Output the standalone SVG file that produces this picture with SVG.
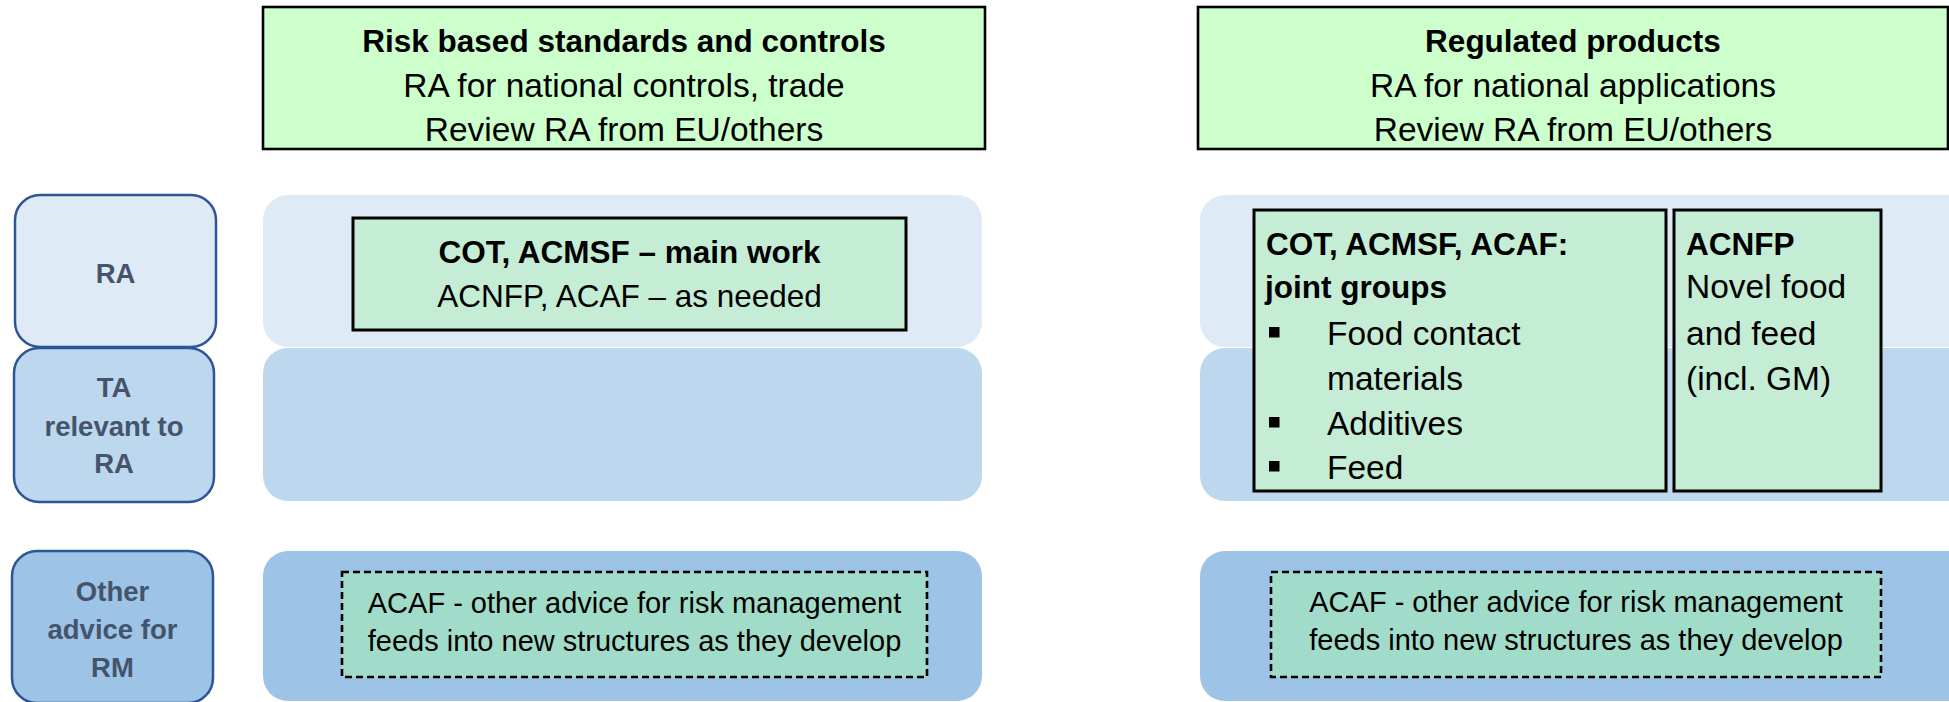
<svg xmlns="http://www.w3.org/2000/svg" width="1949" height="702" viewBox="0 0 1949 702">
<style>
text{font-family:"Liberation Sans",Arial,sans-serif;fill:#000}
.hdr{fill:#CCFFCC;stroke:#000;stroke-width:2.6}
.grn{fill:#C5EDD5;stroke:#000;stroke-width:3}
.dash{fill:#A0DCC9;stroke:#000;stroke-width:2.6;stroke-dasharray:7 4}
.b1{fill:#DEEBF7}
.b2{fill:#BDD7EE}
.b3{fill:#9DC3E6}
.lbl{stroke:#2F5597;stroke-width:2.5}
.lt{font-weight:bold;font-size:27.5px;fill:#44546A;text-anchor:middle}
.tb{font-weight:bold;font-size:31.5px}
.tr{font-size:33.5px}
.td{font-size:29px;text-anchor:middle}
.c{text-anchor:middle}
.bul{fill:#000}
</style>
<g id="bands">
<rect class="b1" x="263" y="195" width="719" height="152" rx="25"/>
<rect class="b2" x="263" y="348" width="719" height="153" rx="25"/>
<rect class="b3" x="263" y="551" width="719" height="150" rx="25"/>
<rect class="b1" x="1200" y="195" width="790" height="152" rx="25"/>
<rect class="b2" x="1200" y="348" width="790" height="153" rx="25"/>
<rect class="b3" x="1200" y="551" width="790" height="150" rx="25"/>
</g>
<g id="label-ra">
<rect class="b1 lbl" x="15" y="195" width="201" height="152" rx="25"/>
<text class="lt" x="115.5" y="283">RA</text>
</g>
<g id="label-ta">
<rect class="b2 lbl" x="14" y="348" width="200" height="154" rx="25"/>
<text class="lt" x="114" y="397">TA</text>
<text class="lt" x="114" y="436">relevant to</text>
<text class="lt" x="114" y="473">RA</text>
</g>
<g id="label-rm">
<rect class="b3 lbl" x="12" y="551" width="201" height="152" rx="25"/>
<text class="lt" x="112.5" y="600.5">Other</text>
<text class="lt" x="112.5" y="638.5">advice for</text>
<text class="lt" x="112.5" y="677">RM</text>
</g>
<g id="header-left">
<rect class="hdr" x="263" y="7" width="722" height="142"/>
<text class="tb c" x="624" y="52">Risk based standards and controls</text>
<text class="tr c" x="624" y="97">RA for national controls, trade</text>
<text class="tr c" x="624" y="140.5">Review RA from EU/others</text>
</g>
<g id="header-right">
<rect class="hdr" x="1198" y="7" width="750" height="142"/>
<text class="tb c" x="1573" y="52">Regulated products</text>
<text class="tr c" x="1573" y="97">RA for national applications</text>
<text class="tr c" x="1573" y="140.5">Review RA from EU/others</text>
</g>
<g id="cot-main">
<rect class="grn" x="353" y="218" width="553" height="112"/>
<text class="tb c" x="629.5" y="263">COT, ACMSF – main work</text>
<text class="c" style="font-size:31.5px" x="629.5" y="307">ACNFP, ACAF – as needed</text>
</g>
<g id="joint-groups">
<rect class="grn" x="1254" y="210" width="412" height="281"/>
<text class="tb" x="1266" y="255">COT, ACMSF, ACAF:</text>
<text class="tb" x="1265" y="298">joint groups</text>
<rect class="bul" x="1269" y="327" width="10.5" height="10.5"/>
<text class="tr" x="1327" y="345">Food contact</text>
<text class="tr" x="1327" y="390">materials</text>
<rect class="bul" x="1269" y="417" width="10.5" height="10.5"/>
<text class="tr" x="1327" y="435">Additives</text>
<rect class="bul" x="1269" y="461" width="10.5" height="10.5"/>
<text class="tr" x="1327" y="479">Feed</text>
</g>
<g id="acnfp">
<rect class="grn" x="1674" y="210" width="207" height="281"/>
<text class="tb" x="1686" y="255">ACNFP</text>
<text class="tr" x="1686" y="298">Novel food</text>
<text class="tr" x="1686" y="345">and feed</text>
<text class="tr" x="1686" y="390">(incl. GM)</text>
</g>
<g id="acaf-left">
<rect class="dash" x="342" y="572" width="585" height="105"/>
<text class="td" x="634.5" y="613">ACAF - other advice for risk management</text>
<text class="td" x="634.5" y="651">feeds into new structures as they develop</text>
</g>
<g id="acaf-right">
<rect class="dash" x="1271" y="572" width="610" height="105"/>
<text class="td" x="1576" y="612">ACAF - other advice for risk management</text>
<text class="td" x="1576" y="650">feeds into new structures as they develop</text>
</g>
<g id="connectors"/>
</svg>
